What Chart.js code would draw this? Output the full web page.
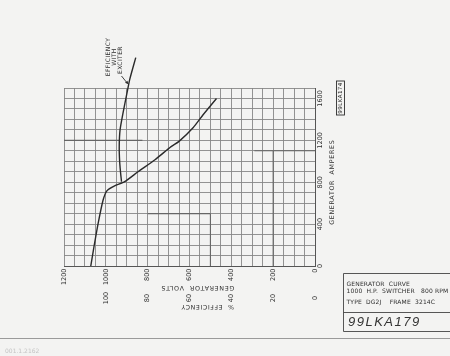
<!DOCTYPE html>
<html><head><meta charset="utf-8">
<script src="https://cdn.jsdelivr.net/npm/chart.js@4/dist/chart.umd.min.js"></script>
<style>html,body{margin:0;padding:0;background:#f3f3f2;}#wrap{width:450px;height:356px;position:relative}</style>
</head><body><div id="wrap"><canvas id="c" width="450" height="356"></canvas></div>
<script>
const voltTicks = [1200, 1000, 800, 600, 400, 200, 0];
const effTicks = [100, 80, 60, 40, 20, 0];
const ampTicks = [0, 400, 800, 1200, 1600];

// Generator volts vs generator amperes
const voltAmps = [0, 180, 405, 630, 720, 765, 805, 900, 1015, 1140, 1190, 1320, 1445, 1600];
const volts    = [1072, 1057, 1037, 1013, 994, 958, 910, 846, 765, 688, 650, 583, 535, 471];

// Efficiency with exciter (%) vs generator amperes
const effAmps    = [805, 900, 1000, 1140, 1300, 1460, 1650, 1780, 1990];
const efficiency = [92.5, 93.0, 93.4, 93.6, 93.2, 91.8, 89.9, 88.6, 85.7];

const FONT = '"DejaVu Sans", sans-serif';
const INK = '#2e2e2e';

function rotText(ctx, txt, x, y, ang, align, size, spacing) {
  ctx.save();
  ctx.translate(x, y);
  ctx.rotate(ang);
  ctx.font = size + 'px ' + FONT;
  ctx.textAlign = align || 'center';
  ctx.textBaseline = 'middle';
  try { ctx.letterSpacing = (spacing || 0) + 'px'; } catch (e) {}
  ctx.fillText(txt, 0, 0);
  ctx.restore();
}

const decor = {
  id: 'decor',
  beforeDatasetsDraw(chart) {
    // slightly darker ruled segments of the graph paper
    const ctx = chart.ctx, xs = chart.scales.x, ys = chart.scales.y;
    const seg = (v1, a1, v2, a2) => {
      ctx.beginPath();
      ctx.moveTo(xs.getPixelForValue(v1), ys.getPixelForValue(a1));
      ctx.lineTo(xs.getPixelForValue(v2), ys.getPixelForValue(a2));
      ctx.stroke();
    };
    ctx.save();
    ctx.strokeStyle = '#666'; ctx.lineWidth = 1.1;
    seg(1200, 1200, 825, 1200);
    seg(800, 500, 500, 500);
    seg(500, 0, 500, 500);
    seg(200, 0, 200, 1100);
    seg(290, 1100, 0, 1100);
    ctx.restore();
  },
  afterDraw(chart) {
    const ctx = chart.ctx;
    const xs = chart.scales.x, xe = chart.scales.xEff, ys = chart.scales.y;
    const ca = chart.chartArea;
    ctx.save();
    ctx.fillStyle = INK;
    const up = -Math.PI / 2;
    // volts tick labels
    voltTicks.forEach(v => rotText(ctx, String(v), xs.getPixelForValue(v), ca.bottom + 2.5, up, 'right', 6.5));
    // efficiency tick labels
    effTicks.forEach(v => rotText(ctx, String(v), xe.getPixelForValue(v), ca.bottom + 32, up, 'center', 6.5));
    // amperes tick labels
    ampTicks.forEach(v => rotText(ctx, String(v), ca.right + 5, ys.getPixelForValue(v), up, 'center', 6.5));
    // axis titles (upside-down for volts / efficiency)
    rotText(ctx, 'GENERATOR  VOLTS', (ca.left + ca.right) / 2 + 8, ca.bottom + 22, Math.PI, 'center', 6.3, 0.7);
    rotText(ctx, '%  EFFICIENCY', (ca.left + ca.right) / 2 + 18, ca.bottom + 41, Math.PI, 'center', 6.2, 0.6);
    rotText(ctx, 'GENERATOR  AMPERES', ca.right + 17, ys.getPixelForValue(800), up, 'center', 6.3, 0.7);
    // curve label
    rotText(ctx, 'EFFICIENCY', 108, 57, up, 'center', 6, 0.4);
    rotText(ctx, 'WITH', 114.5, 57, up, 'center', 6, 0.4);
    rotText(ctx, 'EXCITER', 120.5, 60, up, 'center', 6, 0.4);
    // arrow to curve
    const ax = xe.getPixelForValue(89.2), ay = ys.getPixelForValue(1735);
    const sx = 121.5, sy = 76;
    ctx.strokeStyle = INK; ctx.lineWidth = 0.9;
    ctx.beginPath(); ctx.moveTo(sx, sy); ctx.lineTo(ax - 1, ay - 1); ctx.stroke();
    const a = Math.atan2(ay - sy, ax - sx);
    ctx.beginPath();
    ctx.moveTo(ax, ay);
    ctx.lineTo(ax - 3.8 * Math.cos(a - 0.45), ay - 3.8 * Math.sin(a - 0.45));
    ctx.lineTo(ax - 3.8 * Math.cos(a + 0.45), ay - 3.8 * Math.sin(a + 0.45));
    ctx.closePath(); ctx.fill();
    // drawing number box (rotated)
    ctx.lineWidth = 0.9;
    ctx.strokeRect(336.5, 81, 8, 34);
    rotText(ctx, '99LKA174', 340.5, 98, up, 'center', 5.6, 0.4);
    // title block
    ctx.strokeStyle = '#444';
    ctx.beginPath();
    ctx.moveTo(450, 273.5); ctx.lineTo(343.5, 273.5); ctx.lineTo(343.5, 331.5); ctx.lineTo(450, 331.5);
    ctx.moveTo(343.5, 312.5); ctx.lineTo(450, 312.5);
    ctx.stroke();
    ctx.font = '6px ' + FONT; ctx.textAlign = 'left'; ctx.textBaseline = 'middle';
    try { ctx.letterSpacing = '0.15px'; } catch (e) {}
    ctx.fillText('GENERATOR  CURVE', 346.5, 284.5);
    ctx.fillText('1000  H.P.  SWITCHER   800 RPM', 346.5, 291.5);
    ctx.fillText('TYPE  DG2J    FRAME  3214C', 346.5, 302.5);
    try { ctx.letterSpacing = '1.5px'; } catch (e) {}
    ctx.font = 'italic 13px "Liberation Sans", sans-serif';
    ctx.fillStyle = '#333';
    ctx.fillText('99LKA179', 348, 322);
    try { ctx.letterSpacing = '0px'; } catch (e) {}
    // paper edge and stamp
    ctx.strokeStyle = '#9a9a9a'; ctx.lineWidth = 1.2;
    ctx.beginPath(); ctx.moveTo(0, 338.5); ctx.lineTo(450, 338.5); ctx.stroke();
    ctx.fillStyle = '#c4c4c4';
    ctx.font = '6px ' + FONT;
    ctx.fillText('001.1.2162', 5, 351);
    ctx.restore();
  }
};

new Chart(document.getElementById('c'), {
  type: 'line',
  data: {
    datasets: [
      {
        data: voltAmps.map((a, i) => ({ x: volts[i], y: a })),
        xAxisID: 'x', yAxisID: 'y',
        borderColor: '#2a2a2a', borderWidth: 1.4, pointRadius: 0, tension: 0.2, fill: false
      },
      {
        data: effAmps.map((a, i) => ({ x: efficiency[i], y: a })),
        xAxisID: 'xEff', yAxisID: 'y', clip: false,
        borderColor: '#2a2a2a', borderWidth: 1.4, pointRadius: 0, tension: 0.2, fill: false
      }
    ]
  },
  options: {
    responsive: false, animation: false, devicePixelRatio: 1,
    layout: { padding: { left: 64, right: 135, top: 88, bottom: 90 } },
    plugins: { legend: { display: false }, tooltip: { enabled: false } },
    scales: {
      x: {
        type: 'linear', min: 0, max: 1200, reverse: true, position: 'bottom',
        ticks: { display: false, stepSize: 50 },
        grid: { color: '#878787', lineWidth: 0.9, drawTicks: false },
        border: { color: '#555', width: 1 }
      },
      xEff: { type: 'linear', axis: 'x', min: 0, max: 120, reverse: true, display: false },
      y: {
        type: 'linear', min: 0, max: 1700, position: 'right',
        ticks: { display: false, stepSize: 100 },
        grid: { color: '#878787', lineWidth: 0.9, drawTicks: false },
        border: { color: '#555', width: 1 }
      }
    }
  },
  plugins: [decor]
});
</script>
</body></html>
